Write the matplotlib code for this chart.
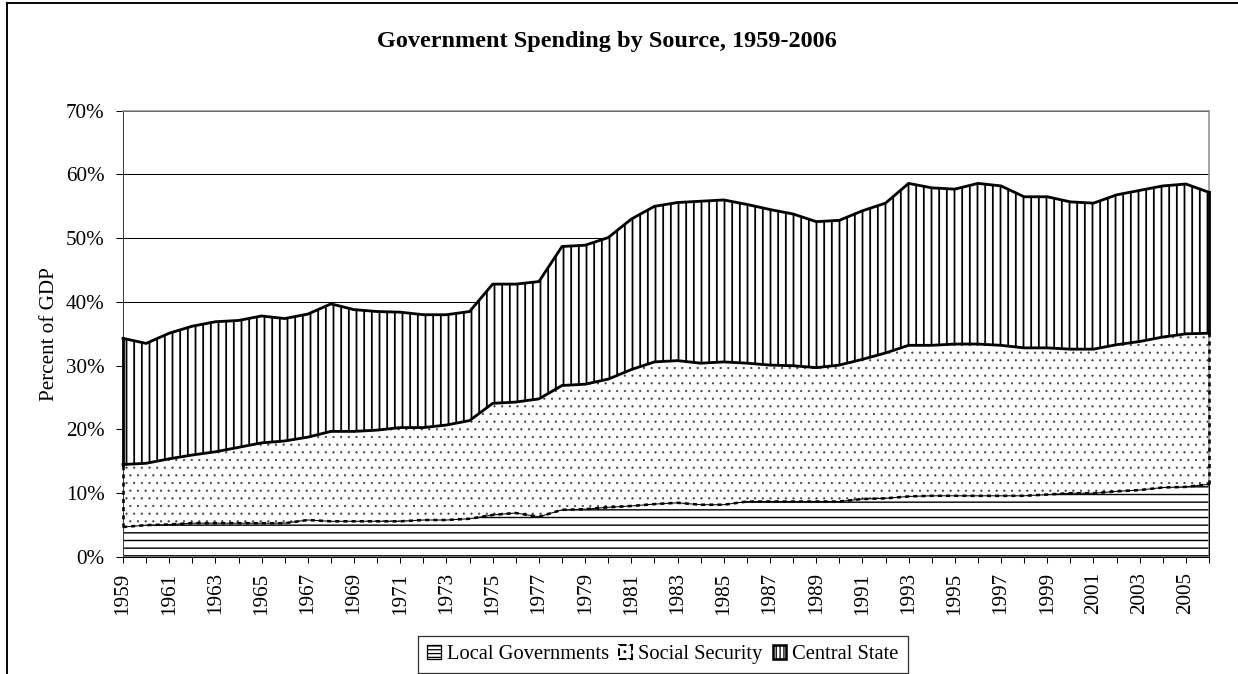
import numpy as np
import matplotlib
matplotlib.use('Agg')
import matplotlib.pyplot as plt
from matplotlib.patches import Patch
from matplotlib.lines import Line2D

# данные, % ВВП
years = np.arange(1959, 2007)

local_gov = [4.7, 5.0, 5.1, 5.3, 5.3, 5.3, 5.3, 5.3, 5.8, 5.6,
             5.6, 5.6, 5.6, 5.8, 5.8, 6.0, 6.6, 6.9, 6.3, 7.4,
             7.5, 7.8, 8.0, 8.3, 8.5, 8.2, 8.2, 8.7, 8.7, 8.7,
             8.7, 8.7, 9.1, 9.2, 9.5, 9.6, 9.6, 9.6, 9.6, 9.6,
             9.8, 10.0, 10.0, 10.3, 10.5, 10.9, 11.0, 11.4]

social_security = [9.8, 9.7, 10.3, 10.7, 11.2, 11.9, 12.6, 12.9, 13.0, 14.1,
                   14.1, 14.3, 14.7, 14.5, 14.9, 15.4, 17.5, 17.4, 18.5, 19.5,
                   19.6, 20.1, 21.4, 22.3, 22.3, 22.2, 22.4, 21.7, 21.4, 21.3,
                   21.0, 21.4, 21.9, 22.8, 23.7, 23.6, 23.8, 23.8, 23.6, 23.2,
                   23.0, 22.6, 22.6, 23.0, 23.3, 23.6, 24.0, 23.7]

central_state = [19.8, 18.8, 19.7, 20.2, 20.4, 19.9, 19.9, 19.2, 19.3, 20.0,
                 19.1, 18.6, 18.1, 17.7, 17.3, 17.1, 18.7, 18.5, 18.4, 21.8,
                 21.8, 22.2, 23.6, 24.4, 24.8, 25.4, 25.4, 24.9, 24.4, 23.8,
                 22.9, 22.7, 23.3, 23.5, 25.4, 24.7, 24.3, 25.2, 25.0, 23.7,
                 23.7, 23.1, 22.9, 23.5, 23.7, 23.7, 23.5, 22.1]

names = ['Local Governments', 'Social Security', 'Central State']
title = 'Government Spending by Source, 1959-2006'

W, H, DPI = 1238, 674, 92
plt.rcParams['font.family'] = ['Liberation Serif', 'DejaVu Serif']

fig = plt.figure(figsize=(W / DPI, H / DPI), dpi=DPI)
ax = fig.add_axes([123 / W, 1 - 557 / H, (1209 - 123) / W, (557 - 110.7) / H])

lvl1 = np.array(local_gov)
lvl2 = lvl1 + np.array(social_security)
lvl3 = lvl2 + np.array(central_state)

# заливки со штриховкой (толщина штриховки берётся из rcParams при создании)
plt.rcParams['hatch.linewidth'] = 1.1
ax.fill_between(years, 0, lvl1, facecolor='white', edgecolor='black', hatch='--', linewidth=0)
plt.rcParams['hatch.linewidth'] = 0.5
ax.fill_between(years, lvl1, lvl2, facecolor='white', edgecolor='0.25', hatch='..', linewidth=0)
plt.rcParams['hatch.linewidth'] = 1.4
ax.fill_between(years, lvl2, lvl3, facecolor='white', edgecolor='black', hatch='||', linewidth=0)

# контуры серий
ax.plot(years, lvl1, color='black', lw=0.8, zorder=3)
ax.plot([years[-1]] * 2, [0, lvl1[-1]], color='black', lw=0.8, zorder=3, clip_on=False)

ax.plot(years, lvl1, color='black', lw=2.0, dashes=(1.6, 1.6), zorder=4)
ax.plot([years[0]] * 2, [lvl1[0], lvl2[0]], color='black', lw=2.0, dashes=(1.6, 1.6), zorder=4, clip_on=False)
ax.plot([years[-1]] * 2, [lvl1[-1], lvl2[-1]], color='black', lw=2.0, dashes=(1.6, 1.6), zorder=4, clip_on=False)

for lv in (lvl2, lvl3):
    ax.plot(years, lv, color='black', lw=2.2, zorder=5, solid_joinstyle='round', clip_on=False)
ax.plot([years[0]] * 2, [lvl2[0], lvl3[0]], color='black', lw=2.2, zorder=5, clip_on=False)
ax.plot([years[-1]] * 2, [lvl2[-1], lvl3[-1]], color='black', lw=2.2, zorder=5, clip_on=False)

# оси
ax.set_xlim(years[0], years[-1])
ax.set_ylim(0, 70)
ax.set_yticks(range(0, 71, 10))
ax.set_yticklabels([f'{v}%' for v in range(0, 71, 10)])
ax.set_xticks(years)
ax.set_xticklabels([str(y) if (y - 1959) % 2 == 0 else '' for y in years], rotation=90)
ax.tick_params(axis='y', direction='out', length=5.5, width=0.8, pad=9, labelsize=16.5)
ax.tick_params(axis='x', direction='out', length=5, width=0.8, pad=7, labelsize=16.5)
ax.yaxis.grid(True, color='black', lw=0.8)
ax.set_axisbelow(True)

ax.spines['left'].set_color('0.25')
ax.spines['bottom'].set_color('black')
for s in ('top', 'right'):
    ax.spines[s].set_color('0.55')
    ax.spines[s].set_linewidth(1.2)

ax.set_ylabel('Percent of GDP', fontsize=16.5, labelpad=5)
fig.text(607 / W, 1 - 41.7 / H, title, ha='center', va='center', fontsize=19, fontweight='bold')

plt.rcParams['hatch.linewidth'] = 1.0
handles = [Patch(facecolor='white', edgecolor='black', hatch='----', lw=1.0),
           Patch(facecolor='white', edgecolor='black', hatch='..', lw=1.6, linestyle='--'),
           Patch(facecolor='white', edgecolor='black', hatch='||||', lw=2.0)]
leg = fig.legend(handles, names, loc='upper center', bbox_to_anchor=(663 / W, 1 - 635.7 / H),
                 ncol=3, frameon=True, fancybox=False, edgecolor='black', fontsize=16,
                 handlelength=0.65, handleheight=0.65, handletextpad=0.3, columnspacing=0.5,
                 borderpad=0.45, borderaxespad=0)
leg.get_frame().set_linewidth(1.0)

# рамка области диаграммы
fig.add_artist(Line2D([7 / W, 7 / W], [0, 1 - 3 / H], transform=fig.transFigure, color='black', lw=1.5))
fig.add_artist(Line2D([7 / W, 1], [1 - 3 / H, 1 - 3 / H], transform=fig.transFigure, color='black', lw=1.5))

fig.savefig('out.png', dpi=DPI)
